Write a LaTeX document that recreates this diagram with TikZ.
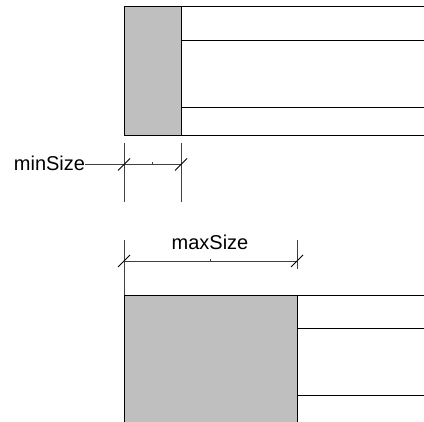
\documentclass[tikz,border=0pt]{standalone}
\usepackage{fontspec}
\setmainfont{Liberation Sans}
\begin{document}
\begin{tikzpicture}[x=1pt,y=-1pt,
  edge/.style={line width=0.9pt,black},
  extline/.style={line width=0.9pt,black!75},
  dimline/.style={line width=0.9pt,black!75},
  tick/.style={line width=0.8pt,black},
  lbl/.style={font=\fontsize{20}{24}\selectfont,inner sep=0pt,anchor=base}]
\useasboundingbox (0,0) rectangle (424,422);
% top panel
\fill[black!25] (124,6) rectangle (181,135);
\draw[edge] (124,6) -- (424,6);
\draw[edge] (181,40.5) -- (424,40.5);
\draw[edge] (181,107) -- (424,107);
\draw[edge] (124,135.5) -- (424,135.5);
\draw[edge] (124,6) -- (124,135.5);
\draw[edge] (181,6) -- (181,135.5);
% minSize dimension
\draw[extline] (124,143) -- (124,202);
\draw[extline] (181,143) -- (181,202);
\node[lbl] (minlbl) at (49.5,170.5) {minSize};
\coordinate (minA) at (124,164.5);
\coordinate (minB) at (181,164.5);
\draw[dimline] (minlbl.east |- minA) -- (minB);
\draw[tick] ([shift={(-6,6)}]minA) -- ([shift={(6,-6)}]minA);
\draw[tick] ([shift={(-6,6)}]minB) -- ([shift={(6,-6)}]minB);
\draw[dimline] (152.5,164.5) -- (152.5,162.5);
% maxSize dimension
\draw[extline] (124,240) -- (124,295);
\draw[extline] (297,240) -- (297,269);
\coordinate (maxA) at (124,261);
\coordinate (maxB) at (297,261);
\draw[dimline] (maxA) -- (maxB);
\draw[tick] ([shift={(-6,6)}]maxA) -- ([shift={(6,-6)}]maxA);
\draw[tick] ([shift={(-6,6)}]maxB) -- ([shift={(6,-6)}]maxB);
\draw[dimline] (210.5,261) -- (210.5,259);
\node[lbl] (maxlbl) at (210,250) {maxSize};
% bottom panel
\fill[black!25] (124,295) rectangle (297,422);
\draw[edge] (124,295) -- (424,295);
\draw[edge] (297,328) -- (424,328);
\draw[edge] (297,395) -- (424,395);
\draw[edge] (124,295) -- (124,422);
\draw[edge] (297,295) -- (297,422);
\end{tikzpicture}
\end{document}
